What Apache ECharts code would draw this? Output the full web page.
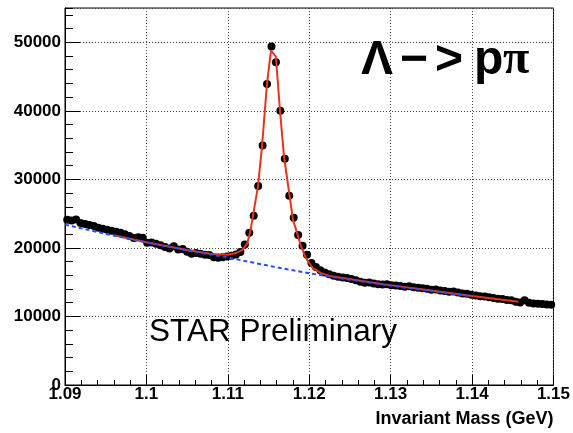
<!DOCTYPE html>
<html>
<head>
<meta charset="utf-8">
<title>Lambda invariant mass</title>
<script src="https://cdn.jsdelivr.net/npm/echarts@6/dist/echarts.min.js"></script>
<style>
  html, body { margin: 0; padding: 0; background: #fff; }
  #chart { width: 573px; height: 433px; }
</style>
</head>
<body>
<div id="chart"></div>
<script>
// Histogram binning of the p-pi invariant mass (GeV)
const massMin = 1.09;
const massMax = 1.15;
const nBins = 110;

// Counts per bin
const counts = [
  24100, 24000, 24150, 23650, 23500, 23350, 23200, 22950, 22800, 22650,
  22500, 22350, 22200, 22000, 21750, 21450, 21550, 21500, 20750, 20800,
  20600, 20400, 20150, 19900, 20250, 19750, 19850, 19450, 19150, 19250,
  19150, 19000, 18950, 18650, 18550, 18650, 18750, 18850, 19050, 19400,
  20500, 22200, 24700, 29050, 34950, 43900, 49400, 47100, 40000, 33000,
  27600, 24400, 21900, 20300, 19000, 17800, 17200, 16750, 16400, 16150,
  15950, 15800, 15700, 15600, 15450, 15300, 15050, 14900, 14950, 14800,
  14700, 14650, 14700, 14550, 14500, 14450, 14350, 14400, 14250, 14200,
  14100, 14050, 13900, 13950, 13800, 13700, 13600, 13650, 13500, 13350,
  13300, 13150, 13050, 12950, 12900, 12800, 12700, 12600, 12550, 12400,
  12350, 12150, 12050, 12350, 12000, 11900, 11850, 11800, 11750, 11700
];

// Signal + background fit curve
const fitMass = [
  1.0960, 1.1000, 1.1050, 1.1080, 1.1100, 1.1110, 1.1118, 1.1124, 1.1128, 1.1130,
  1.1137, 1.1142, 1.1148, 1.1153, 1.1159, 1.1164, 1.1169, 1.1176, 1.1180, 1.1184,
  1.1190, 1.1196, 1.1204, 1.1214, 1.1227, 1.1251, 1.1292, 1.1350, 1.1400, 1.1457
];
const fitValue = [
  21850, 20830, 19700, 19100, 19000, 19250, 19700, 20700, 22600, 24100,
  28950, 34800, 43800, 48800, 47900, 40150, 33300, 27500, 24100, 22600,
  20200, 18500, 17100, 16350, 15850, 15420, 14680, 13780, 13000, 12150
];

// Background-only component
const bgMass = [1.090, 1.095, 1.100, 1.105, 1.110, 1.115, 1.120, 1.125, 1.130, 1.135, 1.140];
const bgValue = [23400, 22050, 20800, 19650, 18600, 17400, 16300, 15350, 14500, 13700, 12950];

// Axis settings
const xTickStep = 0.01;
const yMax = 55000;
const yTickStep = 10000;
const yMinorStep = 2000;

const binWidth = (massMax - massMin) / nBins;
const histPoints = counts.map((c, i) => [massMin + (i + 0.5) * binWidth, c]);
const fitPoints = fitMass.map((m, i) => [m, fitValue[i]]);
const bgPoints = bgMass.map((m, i) => [m, bgValue[i]]);

const FONT = '"Liberation Sans", Arial, Helvetica, sans-serif';
const black = '#000';

const chart = echarts.init(document.getElementById('chart'), null, { renderer: 'canvas' });

chart.setOption({
  animation: false,
  backgroundColor: '#fff',
  grid: {
    left: 65, right: 18, top: 8, bottom: 48,
    show: true, borderColor: black, borderWidth: 1, backgroundColor: 'transparent'
  },
  xAxis: {
    type: 'value',
    min: massMin,
    max: massMax,
    interval: xTickStep,
    axisLine: { show: true, onZero: false, lineStyle: { color: black, width: 1 } },
    axisTick: { show: true, inside: true, length: 10, lineStyle: { color: black } },
    minorTick: { show: true, splitNumber: 5, length: 5, lineStyle: { color: black } },
    splitLine: { show: true, lineStyle: { color: '#444', width: 1, type: [1, 2] } },
    axisLabel: {
      color: black, fontFamily: FONT, fontWeight: 'bold', fontSize: 17, margin: 1,
      formatter: v => String(parseFloat(v.toFixed(2)))
    },
    name: 'Invariant Mass (GeV)',
    nameLocation: 'end',
    nameGap: 0,
    nameTextStyle: {
      color: black, fontFamily: FONT, fontWeight: 'bold', fontSize: 18,
      align: 'right', verticalAlign: 'top', padding: [25, 0, 0, 0]
    }
  },
  yAxis: [
    {
      type: 'value',
      min: 0,
      max: yMax,
      interval: yTickStep,
      axisLine: { show: true, lineStyle: { color: black, width: 1 } },
      axisTick: { show: true, inside: true, length: 15, lineStyle: { color: black } },
      splitLine: { show: true, lineStyle: { color: '#444', width: 1, type: [1, 2] } },
      axisLabel: {
        color: black, fontFamily: FONT, fontWeight: 'bold', fontSize: 17, margin: 4,
        showMaxLabel: false,
        formatter: v => String(Math.round(v))
      }
    },
    {
      // minor ticks on the count axis
      type: 'value',
      position: 'left',
      min: 0,
      max: yMax,
      interval: yMinorStep,
      axisLine: { show: false },
      axisTick: { show: true, inside: true, length: 8, lineStyle: { color: black } },
      splitLine: { show: false },
      axisLabel: { show: false }
    }
  ],
  series: [
    {
      type: 'scatter',
      name: 'data',
      data: histPoints,
      symbol: 'circle',
      symbolSize: 8,
      itemStyle: { color: black, opacity: 1 },
      z: 2,
      silent: true
    },
    {
      type: 'line',
      name: 'fit',
      data: fitPoints,
      showSymbol: false,
      smooth: false,
      lineStyle: { color: '#e8341c', width: 2 },
      z: 3,
      silent: true
    },
    {
      type: 'line',
      name: 'background',
      data: bgPoints,
      showSymbol: false,
      smooth: false,
      lineStyle: { color: '#2b4cff', width: 2, type: [4, 3] },
      z: 4,
      silent: true
    }
  ],
  graphic: [
    {
      type: 'text', x: 149, y: 332, z: 10,
      style: { text: 'STAR Preliminary', fill: black, font: '31.5px ' + FONT, align: 'left', verticalAlign: 'middle' }
    },
    {
      type: 'text', x: 361, y: 61, z: 10,
      style: { text: 'Λ', fill: black, font: 'bold 48px ' + FONT, align: 'left', verticalAlign: 'middle' }
    },
    {
      type: 'text', x: 400, y: 61, z: 10,
      style: { text: '−', fill: black, font: 'bold 48px ' + FONT, align: 'left', verticalAlign: 'middle' }
    },
    {
      type: 'text', x: 435, y: 61, z: 10,
      style: { text: '>', fill: black, font: 'bold 48px ' + FONT, align: 'left', verticalAlign: 'middle' }
    },
    {
      type: 'text', x: 474, y: 61, z: 10,
      style: { text: 'p', fill: black, font: 'bold 48px ' + FONT, align: 'left', verticalAlign: 'middle' }
    },
    {
      type: 'text', x: 503, y: 61, z: 10,
      style: { text: 'π', fill: black, font: 'bold 48px "Liberation Serif", "DejaVu Serif", serif', align: 'left', verticalAlign: 'middle' }
    }
  ]
});
</script>
</body>
</html>
